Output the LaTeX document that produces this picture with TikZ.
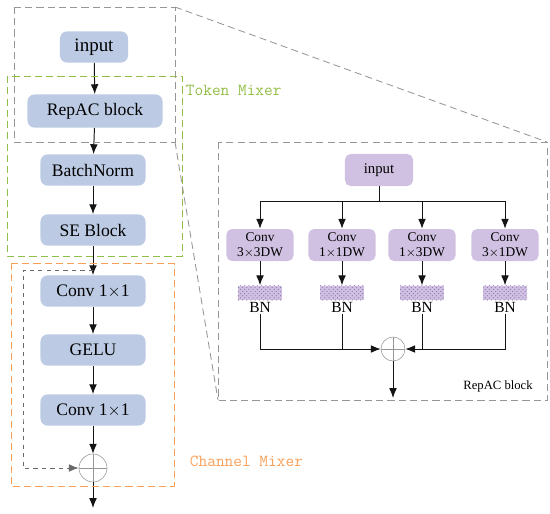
\documentclass[tikz,border=0pt]{standalone}
\usepackage{fontspec}
\setmainfont{Liberation Serif}
\usetikzlibrary{arrows.meta, positioning, patterns}
\definecolor{myblue}{RGB}{188,203,227}
\definecolor{mypurple}{RGB}{208,193,226}
\definecolor{hatchpurple}{RGB}{150,125,185}
\definecolor{mygreen}{RGB}{146,190,70}
\definecolor{myorange}{RGB}{248,160,90}
\definecolor{mygray}{RGB}{150,150,150}
\definecolor{mydark}{RGB}{20,20,20}
\tikzset{
  block/.style={rectangle, fill=myblue, minimum width=2.625cm, minimum height=0.78cm,
    rounded corners=5pt, font=\fontsize{12.5}{14}\selectfont, inner sep=1pt},
  pblock/.style={rectangle, fill=mypurple, minimum width=1.68cm, minimum height=0.8cm,
    rounded corners=4pt, font=\fontsize{9.5}{10.5}\selectfont, align=center, inner sep=1pt},
  bnbox/.style={rectangle, fill=mypurple, minimum width=1.1cm, minimum height=0.37cm,
    inner sep=0pt, postaction={pattern=crosshatch dots, pattern color=hatchpurple}},
  sumnode/.style={circle, draw=mygray, inner sep=0pt,
    path picture={\draw[mygray] (path picture bounding box.north) -- (path picture bounding box.south)
      (path picture bounding box.west) -- (path picture bounding box.east);}},
  frame/.style={draw=mygray, dash pattern=on 5pt off 3pt, line width=0.6pt},
  mixlabel/.style={anchor=west, font=\ttfamily\fontsize{12}{13}\selectfont},
  arrow/.style={-{Latex[length=7pt,width=5.5pt]}, line width=0.7pt, color=mydark},
  line/.style={line width=0.7pt, color=mydark}
}

\begin{document}
\begin{tikzpicture}[x=0.025cm, y=-0.025cm]
  \useasboundingbox (0,0) rectangle (550,513);

  % left column
  \node[block, minimum width=1.7cm, font=\fontsize{13.5}{15}\selectfont] (in) at (94,47) {input};
  \node[block, minimum width=3.375cm, minimum height=0.83cm] (repac) at (95,111) {RepAC block};
  \node[block] (bn)    at (93,170) {BatchNorm};
  \node[block] (se)    at (93,230) {SE Block};
  \node[block] (conva) at (93,291) {Conv 1$\times$1};
  \node[block] (gelu)  at (93,350) {GELU};
  \node[block] (convb) at (93,410) {Conv 1$\times$1};
  \node[sumnode, minimum size=0.7cm] (sum) at (93,468) {};
  \coordinate (out) at (93,508);
  \coordinate (skip) at (93,270);

  \draw[arrow] (in) -- (repac);
  \draw[arrow] (repac) -- (bn);
  \draw[arrow] (bn) -- (se);
  \draw[arrow] (se) -- (conva);
  \draw[arrow] (conva) -- (gelu);
  \draw[arrow] (gelu) -- (convb);
  \draw[arrow] (convb) -- (sum);
  \draw[arrow] (sum) -- (out);
  \draw[arrow, dashed, color=mygray!70!black] (skip) -| (23,420) |- (sum.west);

  % frames
  \draw[frame] (14,7) rectangle (175,142);
  \draw[frame, draw=mygreen] (7,76) rectangle (182,256);
  \draw[frame, draw=myorange] (11,263) rectangle (174,486);
  \node[mixlabel, text=mygreen] (tok) at (181,90) {Token Mixer};
  \node[mixlabel, text=myorange] (cha) at (185,461) {Channel Mixer};

  % zoom lines
  \draw[frame] (175,7) -- (547,142);
  \draw[frame] (175,142) -- (218,400);
  \draw[frame] (218,142) rectangle (547,400);

  % RepAC block detail
  \node[pblock, minimum width=1.7cm, font=\fontsize{10.5}{12}\selectfont] (rin) at (379,170) {input};
  \coordinate (split) at (379,201);
  \node[pblock] (c1) at (260,245) {Conv\\3$\times$3DW};
  \node[pblock] (c2) at (342,245) {Conv\\1$\times$1DW};
  \node[pblock] (c3) at (422,245) {Conv\\1$\times$3DW};
  \node[pblock] (c4) at (505,245) {Conv\\3$\times$1DW};
  \foreach \i in {1,...,4} {
    \node[bnbox, below=0.6cm of c\i] (b\i) {};
    \node[below=0pt of b\i, inner sep=1pt, font=\fontsize{11}{12}\selectfont] (bl\i) {BN};
  }
  \node[sumnode, minimum size=0.6cm] (rsum) at (393,349) {};
  \coordinate (rout) at (393,398);
  \node[font=\fontsize{9}{10}\selectfont] (rlab) at (498,386) {RepAC block};

  \draw[line] (rin) -- (split);
  \draw[line] (split -| c1) -- (split -| c4);
  \foreach \i in {1,...,4} {
    \draw[arrow] (split -| c\i) -- (c\i.north);
    \draw[arrow] (c\i) -- (b\i);
  }
  \draw[arrow] (bl1.south) |- (rsum.west);
  \draw[line] (bl2.south) -- (bl2.south |- rsum.west);
  \draw[arrow] (bl4.south) |- (rsum.east);
  \draw[line] (bl3.south) -- (bl3.south |- rsum.east);
  \draw[arrow] (rsum) -- (rout);
\end{tikzpicture}
\end{document}
